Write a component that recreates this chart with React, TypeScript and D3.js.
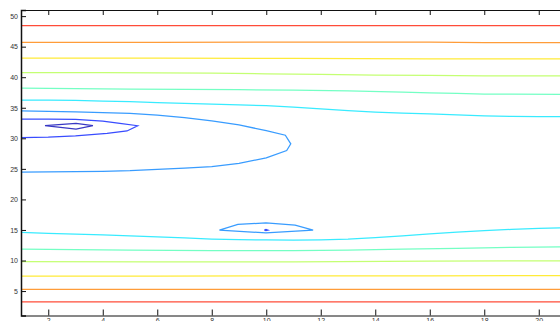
import React, { useEffect, useRef } from 'react';
import * as d3 from 'd3';

// contour levels, 0 = innermost (navy) ... 8 = outermost (red)
const levels = [0, 1, 2, 3, 4, 5, 6, 7, 8];
const xTicks = [2, 4, 6, 8, 10, 12, 14, 16, 18, 20];
const yTicks = [5, 10, 15, 20, 25, 30, 35, 40, 45, 50];

// upper band
const topRed = [[1, 48.43], [6, 48.43], [11, 48.43], [16, 48.43], [21, 48.43]];
const topOrange = [[1, 45.72], [6, 45.72], [11, 45.73], [16, 45.76], [17, 45.72], [18, 45.65], [21, 45.65]];
const topYellow = [[1, 43.14], [6, 43.12], [11, 43.08], [16, 43.02], [21, 42.98]];
const topYellowGreen = [[1, 40.74], [4, 40.74], [6, 40.72], [8, 40.65], [10, 40.55], [12, 40.45], [14, 40.35], [16, 40.28], [18, 40.22], [21, 40.2]];
const topMint = [[1, 38.23], [3, 38.15], [5, 38.07], [7, 38.0], [9, 37.95], [11, 37.88], [13, 37.75], [15, 37.55], [16, 37.45], [17, 37.35], [18, 37.25], [19, 37.22], [21, 37.2]];
const topCyan = [[1, 36.27], [2, 36.26], [3, 36.2], [4, 36.1], [5, 36.0], [6, 35.85], [7, 35.72], [8, 35.6], [9, 35.48], [10, 35.35], [11, 35.1], [12, 34.8], [13, 34.55], [14, 34.3], [15, 34.12], [16, 34.0], [17, 33.85], [18, 33.68], [19, 33.6], [20, 33.56], [21, 33.54]];
const bigBlue = [[1, 34.47], [2, 34.42], [3, 34.33], [4, 34.22], [5, 34.09], [6, 33.8], [7, 33.4], [8, 32.85], [9, 32.2], [10, 31.25], [10.7, 30.5], [10.9, 29.1], [10.75, 28.0], [10, 26.8], [9, 25.9], [8, 25.35], [7, 25.1], [6, 24.9], [5, 24.7], [4, 24.6], [3, 24.55], [2, 24.5], [1, 24.45]];
const innerBlue = [[1, 33.16], [2, 33.15], [3, 33.1], [4, 32.8], [4.63, 32.46], [5.28, 32.06], [4.89, 31.2], [4.16, 30.82], [3, 30.4], [2, 30.2], [1, 30.1]];
const navyDiamond = [[1.88, 32.06], [3.02, 32.46], [3.64, 32.06], [3.02, 31.52], [1.88, 32.06]];

// lower band
const lowRed = [[1, 3.21], [6, 3.21], [11, 3.21], [16, 3.21], [21, 3.21]];
const lowOrange = [[1, 5.29], [6, 5.29], [11, 5.29], [16, 5.29], [21, 5.29]];
const lowYellow = [[1, 7.46], [6, 7.46], [11, 7.47], [16, 7.5], [21, 7.52]];
const lowYellowGreen = [[1, 9.8], [6, 9.78], [11, 9.78], [16, 9.88], [21, 9.95]];
const lowMint = [[1, 11.88], [3, 11.78], [5, 11.7], [8, 11.62], [11, 11.6], [13, 11.7], [15, 11.85], [17, 12.0], [19, 12.15], [21, 12.25]];
const lowCyan = [[1, 14.62], [2, 14.44], [4, 14.2], [5, 14.02], [6, 13.85], [7, 13.7], [8, 13.52], [9, 13.42], [10, 13.36], [11, 13.32], [12, 13.38], [13, 13.5], [14, 13.75], [15, 14.05], [16, 14.35], [17, 14.65], [18, 14.9], [19, 15.1], [20, 15.25], [21, 15.35]];
const lowBlueDiamond = [[8.28, 14.97], [8.96, 15.9], [9.99, 16.17], [11.06, 15.8], [11.72, 14.97], [9.99, 14.53], [8.28, 14.97]];
const lowDot = [[9.93, 14.97], [9.99, 15.07], [10.06, 14.97], [9.99, 14.88], [9.93, 14.97]];

const contours = [
  { level: 8, pts: topRed }, { level: 7, pts: topOrange }, { level: 6, pts: topYellow },
  { level: 5, pts: topYellowGreen }, { level: 4, pts: topMint }, { level: 3, pts: topCyan },
  { level: 2, pts: bigBlue }, { level: 1, pts: innerBlue }, { level: 0, pts: navyDiamond },
  { level: 8, pts: lowRed }, { level: 7, pts: lowOrange }, { level: 6, pts: lowYellow },
  { level: 5, pts: lowYellowGreen }, { level: 4, pts: lowMint }, { level: 3, pts: lowCyan },
  { level: 2, pts: lowBlueDiamond }, { level: 1, pts: lowDot },
];

// MATLAB jet colormap
const jet = (t: number) => {
  const c = (v: number) => Math.round(255 * Math.max(0, Math.min(1, 1.5 - Math.abs(v))));
  return `rgb(${c(4 * t - 3)},${c(4 * t - 2)},${c(4 * t - 1)})`;
};

const App = () => {
  const ref = useRef<SVGSVGElement>(null);

  useEffect(() => {
    const width = 560, height = 321;
    const svg = d3.select(ref.current);
    svg.selectAll('*').remove();

    const x = d3.scaleLinear().domain([1, 21]).range([21, 566]);
    const y = d3.scaleLinear().domain([1, 51]).range([315.5, 10]);
    const color = d3.scaleLinear<number>().domain([levels[0], levels[levels.length - 1]]).range([0.05, 0.85]);

    const line = d3.line<number[]>()
      .x(d => x(d[0]))
      .y(d => y(d[1]));

    svg.append('g')
      .selectAll('path')
      .data(contours)
      .join('path')
      .attr('fill', 'none')
      .attr('stroke', d => jet(color(d.level)))
      .attr('stroke-width', 1.25)
      .attr('stroke-opacity', 0.78)
      .attr('d', d => line(d.pts));

    const font = '"Liberation Sans", Arial, sans-serif';

    // left axis
    const yAxis = svg.append('g').attr('transform', 'translate(21,0)')
      .call(d3.axisLeft(y).tickValues(yTicks).tickSize(-5).tickPadding(3));
    yAxis.select('.domain').attr('stroke', '#111').attr('stroke-width', 1.5);
    yAxis.selectAll('text').attr('font-family', font).attr('font-size', 7).attr('fill', '#333');
    yAxis.selectAll('line').attr('stroke', '#111');

    // bottom axis
    const xAxis = svg.append('g').attr('transform', 'translate(0,315.5)')
      .call(d3.axisBottom(x).tickValues(xTicks).tickSize(-6).tickPadding(2.5).tickSizeOuter(0));
    xAxis.select('.domain').attr('stroke', '#111');
    xAxis.selectAll('text').attr('font-family', font).attr('font-size', 7).attr('fill', '#333');
    xAxis.selectAll('line').attr('stroke', '#111');

    // top axis
    const tAxis = svg.append('g').attr('transform', 'translate(0,10)')
      .call(d3.axisTop(x).tickValues(xTicks).tickSize(-5).tickFormat(() => '').tickSizeOuter(0));
    tAxis.select('.domain').attr('stroke', '#111');
    tAxis.selectAll('line').attr('stroke', '#111');

    svg.attr('width', width).attr('height', height);
  }, []);

  return (
    <svg ref={ref} width={560} height={321}
      style={{ position: 'absolute', left: 0, top: 0, background: '#fff' }} />
  );
};

export default App;
